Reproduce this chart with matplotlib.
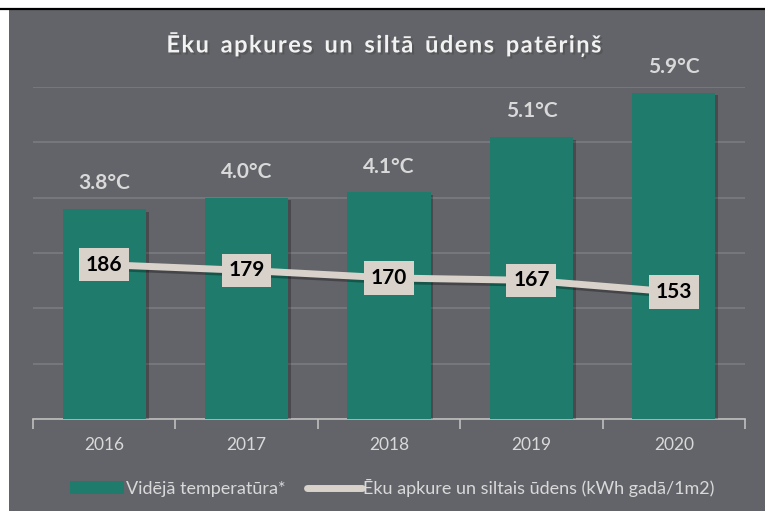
import numpy as np
import matplotlib.pyplot as plt
import matplotlib.patheffects as pe
from matplotlib.patches import Rectangle
from matplotlib.lines import Line2D

years = ['2016', '2017', '2018', '2019', '2020']
temps = [3.8, 4.0, 4.1, 5.1, 5.9]
temp_labels = ['3.8°C', '4.0°C', '4.1°C', '5.1°C', '5.9°C']
consumption = [186, 179, 170, 167, 153]

bg = '#636469'
green = '#1f7b6b'
beige = '#d8d2cb'
txt = '#d9d9d9'

plt.rcParams['font.family'] = ['Lato', 'DejaVu Sans']

fig = plt.figure(figsize=(7.65, 5.11), dpi=100)
fig.patch.set_facecolor('white')
# gray panel and black top line
fig.patches.append(Rectangle((9 / 765, 0), 1, 1 - 10 / 511, transform=fig.transFigure,
                             facecolor=bg, edgecolor='none', zorder=-3))
fig.lines.append(Line2D([0, 1], [1 - 9.5 / 511] * 2, transform=fig.transFigure,
                        color='black', lw=1.6, zorder=-2))

ax = fig.add_axes([33 / 765, 92 / 511, 712 / 765, 332 / 511])
ax.set_facecolor('none')
x = np.arange(len(years))

shadow = [pe.SimplePatchShadow(offset=(2, -2), shadow_rgbFace='black', alpha=0.25), pe.Normal()]
bars = ax.bar(x, temps, width=0.585, color=green, zorder=3)
for b in bars:
    b.set_path_effects(shadow)
for xi, t, lab in zip(x, temps, temp_labels):
    ax.text(xi, t + 0.28, lab, ha='center', va='bottom', color=txt, fontsize=15,
            fontweight='bold')

ax.set_xlim(-0.5, 4.5)
ax.set_ylim(0, 6)
ax.set_yticks(np.arange(0, 7, 1))
ax.yaxis.grid(True, color='#7b7c81', lw=1.2)
ax.set_axisbelow(True)
ax.set_xticks(np.arange(-0.5, 5, 1))
ax.set_xticklabels([])
ax.set_xticks(x, minor=True)
ax.set_xticklabels(years, minor=True, color=txt, fontsize=12.5)
ax.tick_params(axis='x', which='major', length=7, color='#bfbfbf', width=1.2)
ax.tick_params(axis='x', which='minor', length=0, pad=13)
for s in ['top', 'left', 'right']:
    ax.spines[s].set_visible(False)
ax.spines['bottom'].set_color('#bfbfbf')
ax.spines['bottom'].set_linewidth(1.2)

ax2 = ax.twinx()
ax2.set_ylim(0, 400)
ax2.axis('off')
ax.tick_params(axis='y', which='both', left=False, right=False,
               labelleft=False, labelright=False)
ax2.plot(x, consumption, color=beige, lw=5, solid_capstyle='round', zorder=4,
         path_effects=[pe.SimpleLineShadow(offset=(2, -2), alpha=0.3), pe.Normal()])
for xi, c in zip(x, consumption):
    ax2.text(xi, c, str(c), ha='center', va='center', fontsize=15, fontweight='bold',
             color='black', zorder=5,
             bbox=dict(boxstyle='square,pad=0.32', facecolor=beige, edgecolor='none'))

title = 'Ēku apkures un siltā ūdens patēriņš'
spaced = '\u2002'.join('\u200a'.join(w) for w in title.split(' '))
fig.text(0.503, 0.914, spaced, ha='center', va='center', color='#f2f2f2', fontsize=17,
         fontweight='bold',
         path_effects=[pe.withSimplePatchShadow(offset=(1.5, -1.5), alpha=0.5)])

handles = [Rectangle((0, 0), 1, 1, facecolor=green),
           Line2D([0], [0], color=beige, lw=5, solid_capstyle='round')]
leg = fig.legend(handles, ['Vidējā temperatūra*', 'Ēku apkure un siltais ūdens (kWh gadā/1m2)'],
                 loc='center', bbox_to_anchor=(0.513, 0.045), ncol=2, frameon=False,
                 fontsize=13, labelcolor=txt, handlelength=3.0, handletextpad=0.1,
                 columnspacing=1.2)

fig.savefig('out.png', dpi=100, facecolor=fig.get_facecolor())
